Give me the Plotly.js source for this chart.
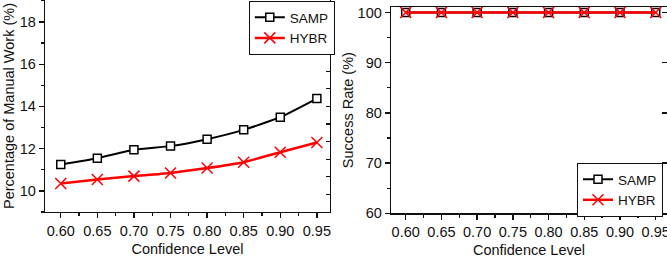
<!DOCTYPE html>
<html><head><meta charset="utf-8">
<script src="https://cdn.plot.ly/plotly-3.0.1.min.js"></script>
<style>html,body{margin:0;padding:0;background:#fff;}#chart{width:667px;height:263px;}</style>
</head><body><div id="chart"></div>
<script>
const confidence = [0.60, 0.65, 0.70, 0.75, 0.80, 0.85, 0.90, 0.95];
const sampManualWork = [11.25, 11.55, 11.95, 12.12, 12.45, 12.89, 13.49, 14.37];
const hybrManualWork = [10.35, 10.54, 10.70, 10.85, 11.08, 11.36, 11.83, 12.29];
const sampSuccess = [100, 100, 100, 100, 100, 100, 100, 100];
const hybrSuccess = [100, 100, 100, 100, 100, 100, 100, 100];
const seriesNames = ['SAMP', 'HYBR'];

const FONT = 'Liberation Sans, Arial, sans-serif';
const TXT = '#111';
const sampStyle = {mode: 'lines+markers', line: {color: '#000', width: 2, shape: 'spline', smoothing: 0.5},
  marker: {symbol: 'square', size: 8, color: '#fff', line: {color: '#000', width: 1.5}}};
const hybrStyle = {mode: 'lines+markers', line: {color: '#ff0000', width: 2.5, shape: 'spline', smoothing: 0.6},
  marker: {symbol: 'x-thin', size: 11, color: '#ff0000', line: {color: '#ff0000', width: 1.5}}};

const data = [
  Object.assign({x: confidence, y: sampManualWork, name: seriesNames[0], xaxis: 'x', yaxis: 'y', legend: 'legend'}, sampStyle),
  Object.assign({x: confidence, y: hybrManualWork, name: seriesNames[1], xaxis: 'x', yaxis: 'y', legend: 'legend'}, hybrStyle),
  Object.assign({x: confidence, y: sampSuccess, name: seriesNames[0], xaxis: 'x2', yaxis: 'y2', legend: 'legend2'}, sampStyle),
  Object.assign({x: confidence, y: hybrSuccess, name: seriesNames[1], xaxis: 'x2', yaxis: 'y2', legend: 'legend2'}, hybrStyle),
  // invisible carriers so the right-hand frame axes (inward ticks) get drawn
  {x: confidence, y: sampManualWork, xaxis: 'x', yaxis: 'y3', mode: 'lines', opacity: 0, showlegend: false, hoverinfo: 'skip'},
  {x: confidence, y: sampSuccess, xaxis: 'x2', yaxis: 'y4', mode: 'lines', opacity: 0, showlegend: false, hoverinfo: 'skip'}
];

const axBase = {showgrid: false, zeroline: false, showline: true, linecolor: '#111', linewidth: 1.3,
  ticks: 'outside', ticklen: 5, tickwidth: 1.3, tickcolor: '#111', ticklabeloverflow: 'allow',
  tickfont: {family: FONT, size: 14.5, color: TXT}};

const layout = {
  width: 667, height: 263,
  margin: {l: 0, r: 0, t: 0, b: 0},
  paper_bgcolor: '#fff', plot_bgcolor: '#fff',
  font: {family: FONT, size: 14.5, color: TXT},
  xaxis: Object.assign({}, axBase, {domain: [0.0675, 0.4948], anchor: 'y', range: [0.5785, 0.968],
    tickmode: 'linear', tick0: 0.6, dtick: 0.05, tickformat: '.2f',
    minor: {dtick: 0.025, ticklen: 3, tickcolor: '#111', ticks: 'outside'},
    title: {text: 'Confidence Level', font: {family: FONT, size: 14.5, color: TXT}, standoff: 6}}),
  yaxis: Object.assign({}, axBase, {domain: [0.1939, 1], anchor: 'x', range: [9, 19.04], mirror: true,
    tickmode: 'linear', tick0: 10, dtick: 2,
    minor: {dtick: 1, ticklen: 3, tickcolor: '#111', ticks: 'outside'},
    title: {text: 'Percentage of Manual Work (%)', font: {family: FONT, size: 14.5, color: TXT}, standoff: 1}}),
  yaxis3: {overlaying: 'y', side: 'right', anchor: 'x', range: [0, 6.023], showgrid: false, zeroline: false,
    showline: true, linecolor: '#111', linewidth: 1.3, ticks: 'inside', ticklen: 4, tickwidth: 1.3, tickcolor: '#111',
    tickmode: 'linear', tick0: 0, dtick: 0.5, showticklabels: false},
  xaxis2: Object.assign({}, axBase, {domain: [0.5862, 1], anchor: 'y2', range: [0.5794, 0.9658], mirror: true,
    tickmode: 'linear', tick0: 0.6, dtick: 0.05, tickformat: '.2f',
    minor: {dtick: 0.025, ticklen: 3, tickcolor: '#111', ticks: 'outside'},
    title: {text: 'Confidence Level', font: {family: FONT, size: 14.5, color: TXT}, standoff: 6}}),
  yaxis2: Object.assign({}, axBase, {domain: [0.189, 0.9735], anchor: 'x2', range: [60, 101.1], mirror: true,
    tickmode: 'linear', tick0: 60, dtick: 10,
    minor: {dtick: 5, ticklen: 3, tickcolor: '#111', ticks: 'outside'},
    title: {text: 'Success Rate (%)', font: {family: FONT, size: 14.5, color: TXT}, standoff: 0}}),
  yaxis4: {overlaying: 'y2', side: 'right', anchor: 'x2', range: [60, 101.1], showgrid: false, zeroline: false,
    showline: true, linecolor: '#111', linewidth: 1.3, ticks: 'inside', ticklen: 5, tickwidth: 1.3, tickcolor: '#111',
    tickmode: 'linear', tick0: 60, dtick: 10, showticklabels: false},
  legend: {x: 0.373, y: 0.996, xanchor: 'left', yanchor: 'top', bgcolor: '#fff', bordercolor: '#111', borderwidth: 1,
    font: {family: FONT, size: 13.5, color: TXT}, itemwidth: 30, tracegroupgap: 0},
  legend2: {x: 0.994, y: 0.2776, xanchor: 'right', yanchor: 'middle', bgcolor: '#fff', bordercolor: '#111', borderwidth: 1,
    font: {family: FONT, size: 13.5, color: TXT}, itemwidth: 30, tracegroupgap: 0},
  showlegend: true
};

Plotly.newPlot('chart', data, layout, {displayModeBar: false, staticPlot: true});
</script>
</body></html>
